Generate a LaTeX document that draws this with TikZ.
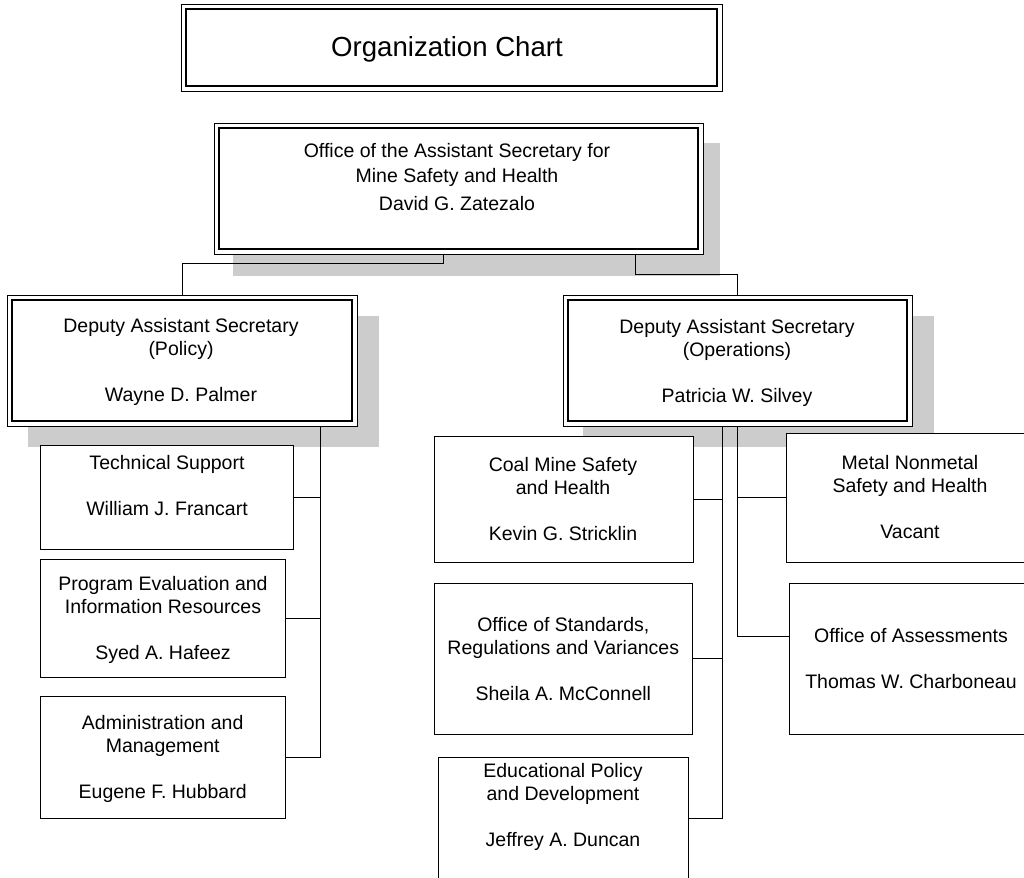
\documentclass[tikz,border=0pt]{standalone}
\usepackage{fontspec}
\setmainfont{Liberation Sans}
\usetikzlibrary{backgrounds}
\definecolor{shadowgray}{RGB}{204,204,204}
\begin{document}
\begin{tikzpicture}[x=1pt,y=-1pt,
  dbox/.style={draw, line width=0.9pt, fill=white, inner sep=0pt, outer sep=0pt, anchor=north west},
  innerline/.style={draw, line width=1.25pt},
  sbox/.style={draw, line width=1pt, fill=white, inner sep=0pt, outer sep=0pt, anchor=north west},
  shadowbox/.style={fill=shadowgray, draw=none},
  conn/.style={line width=1pt, draw=black},
  txt/.style={font=\fontsize{19.5}{23}\selectfont, align=center, inner sep=0pt, anchor=base}]
\useasboundingbox (0,0) rectangle (1024,877);

% double-framed boxes
\node[dbox, minimum width=541pt, minimum height=87pt] (title) at (181,4) {};
\node[dbox, minimum width=489pt, minimum height=131pt] (top) at (214,123) {};
\node[dbox, minimum width=350pt, minimum height=131pt] (ldep) at (7,295) {};
\node[dbox, minimum width=349pt, minimum height=131pt] (rdep) at (563,295) {};
\foreach \b in {title,top,ldep,rdep}
  \draw[innerline] ([shift={(5,5)}]\b.north west) rectangle ([shift={(-5,-5)}]\b.south east);

% single-framed boxes
\node[sbox, minimum width=253pt, minimum height=104pt] (ts) at (40,445) {};
\node[sbox, minimum width=245pt, minimum height=118pt] (pe) at (40,559) {};
\node[sbox, minimum width=245pt, minimum height=122pt] (am) at (40,696) {};
\node[sbox, minimum width=259pt, minimum height=126pt] (coal) at (434,436) {};
\node[sbox, minimum width=258pt, minimum height=151pt] (std) at (434,583) {};
\node[sbox, minimum width=250pt, minimum height=122pt] (edu) at (438,757) {};
\node[sbox, minimum width=240pt, minimum height=129pt] (mn) at (786,433) {};
\node[sbox, minimum width=237pt, minimum height=151pt] (oa) at (789,583) {};

% texts
\node[txt, font=\fontsize{27.6}{32}\selectfont] (titleT) at (447,57) {Organization Chart};
\node[txt, font=\fontsize{19.5}{25}\selectfont] (topT) at (457,211) {Office of the Assistant Secretary for\\Mine Safety and Health\\[3pt]David G. Zatezalo};
\node[txt] (ldepT) at (181,401.7) {Deputy Assistant Secretary\\(Policy)\\[23pt]Wayne D. Palmer};
\node[txt] (rdepT) at (737,402) {Deputy Assistant Secretary\\(Operations)\\[23pt]Patricia W. Silvey};
\node[txt] (tsT) at (167,515) {Technical Support\\[23pt]William J. Francart};
\node[txt] (peT) at (163,659.3) {Program Evaluation and\\Information Resources\\[23pt]Syed A. Hafeez};
\node[txt] (amT) at (162.7,798) {Administration and\\Management\\[23pt]Eugene F. Hubbard};
\node[txt] (coalT) at (563,540) {Coal Mine Safety\\and Health\\[23pt]Kevin G. Stricklin};
\node[txt] (stdT) at (563.3,700) {Office of Standards,\\Regulations and Variances\\[23pt]Sheila A. McConnell};
\node[txt] (eduT) at (563,846.7) {Educational Policy\\and Development\\[23pt]Jeffrey A. Duncan};
\node[txt] (mnT) at (910,538) {Metal Nonmetal\\Safety and Health\\[23pt]Vacant};
\node[txt] (oaT) at (911,688) {Office of Assessments\\[23pt]Thomas W. Charboneau};

\begin{pgfonlayer}{background}
% shadows
\fill[shadowbox] (233,143) rectangle (720,276);
\fill[shadowbox] (28,316) rectangle (379,447);
\fill[shadowbox] (583,316) rectangle (934,447);
% connectors
\draw[conn] (443,0 |- top.south) -- (443,263) -| (ldep.north);
\draw[conn] (635,0 |- top.south) -- (635,274) -| (rdep.north);
\draw[conn] (320,0 |- ldep.south) |- (ts.east);
\draw[conn] (320,0 |- ldep.south) |- (pe.east);
\draw[conn] (320,0 |- ldep.south) |- (am.east);
\draw[conn] (722,0 |- rdep.south) |- (coal.east);
\draw[conn] (722,0 |- rdep.south) |- (std.east);
\draw[conn] (722,0 |- rdep.south) |- (edu.east);
\draw[conn] (737,0 |- rdep.south) |- (mn.west);
\draw[conn] (737,0 |- rdep.south) -- (737,636) -- (oa.west |- 737,636);
\end{pgfonlayer}
\end{tikzpicture}
\end{document}
